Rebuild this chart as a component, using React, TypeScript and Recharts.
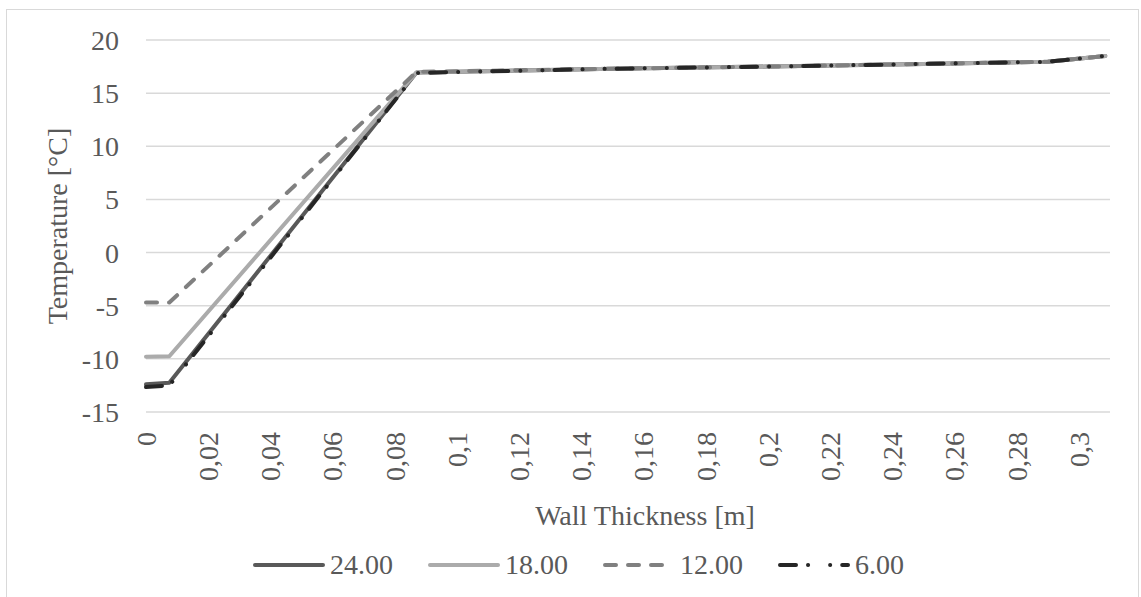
import React from 'react';
import { LineChart, Line, XAxis, YAxis, CartesianGrid, Label } from 'recharts';

// wall positions [m] and temperatures [°C]
const xValues = [0, 0.0075, 0.087, 0.15, 0.2, 0.25, 0.29, 0.3085];
const temp24 = [-12.4, -12.25, 16.95, 17.3, 17.5, 17.75, 17.95, 18.5];
const temp18 = [-9.8, -9.75, 16.95, 17.3, 17.5, 17.75, 17.95, 18.5];
const temp12 = [-4.7, -4.7, 17.0, 17.3, 17.5, 17.75, 17.95, 18.5];
const temp6 = [-12.65, -12.5, 16.9, 17.3, 17.5, 17.75, 17.95, 18.5];

const seriesNames = ['24.00', '18.00', '12.00', '6.00'];
const xTicks = [0, 0.02, 0.04, 0.06, 0.08, 0.1, 0.12, 0.14, 0.16, 0.18, 0.2, 0.22, 0.24, 0.26, 0.28, 0.3];
const yTicks = [-15, -10, -5, 0, 5, 10, 15, 20];

const data = xValues.map((x, i) => ({
  x,
  t24: temp24[i],
  t18: temp18[i],
  t12: temp12[i],
  t6: temp6[i],
}));

const FONT = '"Liberation Serif", "Times New Roman", serif';
const TEXT = '#595959';

const lineStyles = [
  { key: 't24', color: '#595959', dash: undefined },
  { key: 't18', color: '#ababab', dash: undefined },
  { key: 't12', color: '#808080', dash: '11 12' },
  { key: 't6', color: '#262626', dash: '16 12 0.1 22 0.1 12' },
];

const XTick = ({ x, y, payload }: any) => (
  <text
    x={x}
    y={y}
    dy="0.35em"
    transform={`rotate(-90 ${x} ${y})`}
    textAnchor="end"
    fill={TEXT}
    fontFamily={FONT}
    fontSize={28}
  >
    {String(payload.value).replace('.', ',')}
  </text>
);

const ChartLegend = () => (
  <div style={{ position: 'absolute', left: 0, top: 545, width: 1141, height: 40 }}>
    {seriesNames.map((name, i) => {
      const s = lineStyles[i];
      const left = 252 + i * 175;
      return (
        <div key={name} style={{ position: 'absolute', left, top: 0, display: 'flex', alignItems: 'center', height: 40 }}>
          <svg width={74} height={10}>
            <line
              x1={3}
              y1={5}
              x2={71}
              y2={5}
              stroke={s.color}
              strokeWidth={4}
              strokeLinecap="round"
              strokeDasharray={s.dash}
            />
          </svg>
          <span style={{ fontFamily: FONT, fontSize: 28, color: TEXT, marginLeft: 4, lineHeight: '40px' }}>{name}</span>
        </div>
      );
    })}
  </div>
);

const App: React.FC = () => {
  return (
    <div style={{ position: 'absolute', left: 0, top: 0, width: 1141, height: 597, overflow: 'hidden', background: '#fff' }}>
      <div
        style={{
          position: 'absolute',
          left: 6,
          top: 9,
          width: 1131,
          height: 620,
          border: '1.5px solid #d9d9d9',
        }}
      />
      <div style={{ position: 'absolute', left: 0, top: 0 }}>
        <LineChart width={1141} height={597} data={data} margin={{ top: 40, right: 31, left: 0, bottom: 0 }}>
          <CartesianGrid vertical={false} stroke="#d9d9d9" strokeWidth={1.5} />
          <XAxis
            dataKey="x"
            type="number"
            domain={[0, 0.31]}
            ticks={xTicks}
            interval={0}
            axisLine={false}
            tickLine={false}
            tickSize={0}
            tickMargin={20}
            height={185}
            tick={<XTick />}
          >
            <Label
              content={() => (
                <text x={645} y={525} textAnchor="middle" fill={TEXT} fontFamily={FONT} fontSize={28}>
                  Wall Thickness [m]
                </text>
              )}
            />
          </XAxis>
          <YAxis
            type="number"
            domain={[-15, 20]}
            ticks={yTicks}
            interval={0}
            width={146}
            axisLine={false}
            tickLine={false}
            tickSize={0}
            tickMargin={27}
            tick={{ fill: TEXT, fontFamily: FONT, fontSize: 28 }}
          >
            <Label
              content={() => (
                <text
                  x={67}
                  y={226}
                  transform="rotate(-90 67 226)"
                  textAnchor="middle"
                  fill={TEXT}
                  fontFamily={FONT}
                  fontSize={28}
                >
                  Temperature [°C]
                </text>
              )}
            />
          </YAxis>
          {lineStyles.map((s, i) => (
            <Line
              key={s.key}
              type="linear"
              dataKey={s.key}
              name={seriesNames[i]}
              stroke={s.color}
              strokeWidth={4}
              strokeDasharray={s.dash}
              strokeLinecap="round"
              strokeLinejoin="round"
              dot={false}
              activeDot={false}
              isAnimationActive={false}
            />
          ))}
        </LineChart>
      </div>
      <ChartLegend />
    </div>
  );
};

export default App;
